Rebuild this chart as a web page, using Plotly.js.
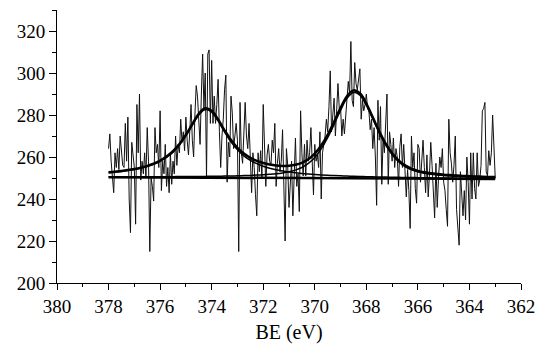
<!DOCTYPE html>
<html>
<head>
<meta charset="utf-8">
<script src="https://cdn.plot.ly/plotly-3.0.1.min.js"></script>
<style>
html,body{margin:0;padding:0;background:#fff;}
#chart{width:540px;height:344px;}
#chart svg text{font-family:'Liberation Serif','Times New Roman',serif !important;}
</style>
</head>
<body>
<div id="chart"></div>
<script>
const specStart = 378.0;
const specStep = 0.05;
const counts = [
 264,271,258,250,243,262,255,264,254,270,262,256,255,276,258,279,240,224,267,262,
 255,228,285,262,290,249,258,252,262,250,274,258,215,250,246,239,274,262,266,255,
 282,244,258,252,266,246,255,243,262,247,258,252,270,256,266,262,278,267,272,263,
 279,268,261,272,285,268,260,280,294,289,275,266,290,309,283,300,250,309,311,276,
 306,276,289,276,285,297,272,255,270,278,292,299,248,267,260,289,281,264,270,276,
 268,215,286,262,257,272,286,270,264,276,258,243,262,255,242,232,262,253,263,250,
 285,268,246,261,266,258,256,268,262,276,246,257,264,253,258,273,247,220,264,256,
 236,249,258,232,255,269,246,252,234,282,262,251,266,251,268,258,262,274,258,242,
 266,258,261,255,272,240,262,266,270,278,272,284,301,272,281,288,270,283,295,283,
 284,270,278,271,280,285,296,290,315,287,284,305,295,292,299,302,278,287,282,285,
 290,283,282,273,278,264,274,260,237,287,268,284,247,269,262,280,290,247,272,266,
 258,269,255,264,260,246,265,271,255,266,250,241,254,244,226,270,255,262,245,238,
 266,264,248,258,268,255,243,261,241,252,267,256,245,231,257,236,250,260,255,264,
 248,244,235,227,278,262,257,248,256,270,235,225,218,253,242,232,244,230,260,248,
 228,262,240,262,245,240,262,246,249,256,282,283,286,253,251,263,256,262,280,262,
 250
];

// Fit curves sampled on a 0.25 eV grid
const fitStart = 378.0;
const fitStep = 0.25;
const baseline = [
 250.40,250.39,250.37,250.36,250.34,250.33,250.31,250.30,250.28,250.27,
 250.25,250.24,250.22,250.21,250.19,250.18,250.16,250.15,250.13,250.12,
 250.10,250.09,250.07,250.06,250.04,250.03,250.01,250.00,249.98,249.97,
 249.95,249.94,249.92,249.91,249.89,249.88,249.86,249.85,249.83,249.82,
 249.80,249.79,249.77,249.76,249.74,249.73,249.71,249.70,249.68,249.67,
 249.65,249.64,249.62,249.61,249.59,249.58,249.56,249.55,249.53,249.52,
 249.50
];
const peak1 = [
 2.10,2.39,2.73,3.16,3.68,4.33,5.17,6.25,7.67,9.56,
 12.08,15.48,19.82,24.95,29.82,32.42,31.25,27.03,21.81,17.08,
 13.32,10.48,8.35,6.77,5.57,4.64,3.92,3.35,2.89,2.52,
 2.21,1.96,1.74,1.56,1.41,1.27,1.16,1.06,0.97,0.89,
 0.82,0.76,0.71,0.66,0.62,0.58,0.54,0.51,0.48,0.45,
 0.42,0.40,0.38,0.36,0.34,0.33,0.31,0.29,0.28,0.27,
 0.26
];
const peak2 = [
 0.22,0.23,0.25,0.26,0.28,0.29,0.31,0.33,0.35,0.38,
 0.40,0.43,0.47,0.50,0.55,0.59,0.64,0.70,0.77,0.85,
 0.94,1.05,1.18,1.33,1.51,1.73,2.02,2.41,2.96,3.78,
 5.06,7.01,9.90,13.97,19.30,25.66,32.37,38.06,40.92,39.65,
 34.86,28.36,21.74,15.96,11.39,8.04,5.74,4.23,3.25,2.60,
 2.16,1.84,1.59,1.40,1.23,1.10,0.99,0.89,0.80,0.73,
 0.67
];

const xTickVals = [380,378,376,374,372,370,368,366,364,362];
const yTickVals = [200,220,240,260,280,300,320];

const specE = counts.map((_, i) => +(specStart - i * specStep).toFixed(2));
const fitE = baseline.map((_, i) => +(fitStart - i * fitStep).toFixed(2));
const comp1 = baseline.map((b, i) => b + peak1[i]);
const comp2 = baseline.map((b, i) => b + peak2[i]);
const envelope = baseline.map((b, i) => b + peak1[i] + peak2[i]);

const traces = [
  {x: specE, y: counts, type: 'scatter', mode: 'lines', line: {color: '#111', width: 1}},
  {x: fitE, y: baseline, type: 'scatter', mode: 'lines', line: {color: '#000', width: 2.5}},
  {x: fitE, y: comp1, type: 'scatter', mode: 'lines', line: {color: '#000', width: 1.5, shape: 'spline'}},
  {x: fitE, y: comp2, type: 'scatter', mode: 'lines', line: {color: '#000', width: 1.5, shape: 'spline'}},
  {x: fitE, y: envelope, type: 'scatter', mode: 'lines', line: {color: '#000', width: 2.5, shape: 'spline'}}
];

const layout = {
  width: 540, height: 344,
  margin: {l: 57, r: 19, t: 10, b: 61},
  showlegend: false,
  xaxis: {
    range: [380, 362], tickvals: xTickVals, ticktext: xTickVals.map(String),
    showline: true, linecolor: '#000', linewidth: 1,
    ticks: 'outside', ticklen: 6, tickwidth: 1, tickcolor: '#000',
    minor: {ticks: 'outside', ticklen: 3, dtick: 1, tick0: 362, tickcolor: '#000'},
    showgrid: false, zeroline: false,
    tickfont: {family: 'Liberation Serif', size: 19, color: '#000'},
    title: {text: 'BE (eV)', font: {family: 'Liberation Serif', size: 20, color: '#000'}, standoff: 10}
  },
  yaxis: {
    range: [200, 330], tickvals: yTickVals, ticktext: yTickVals.map(String),
    showline: true, linecolor: '#000', linewidth: 1,
    ticks: 'outside', ticklen: 7, tickwidth: 1, tickcolor: '#000',
    minor: {ticks: 'outside', ticklen: 4, dtick: 10, tick0: 200, tickcolor: '#000'},
    showgrid: false, zeroline: false,
    tickfont: {family: 'Liberation Serif', size: 19, color: '#000'}
  }
};

function forceSerif() {
  document.querySelectorAll('#chart svg text').forEach(t => { t.style.fontFamily = 'Liberation Serif'; });
}
try {
  const p = Plotly.newPlot('chart', traces, layout, {displayModeBar: false, staticPlot: true});
  forceSerif();
  if (p && p.then) p.then(forceSerif, forceSerif);
} catch (e) { forceSerif(); }
setTimeout(forceSerif, 50);
</script>
</body>
</html>
